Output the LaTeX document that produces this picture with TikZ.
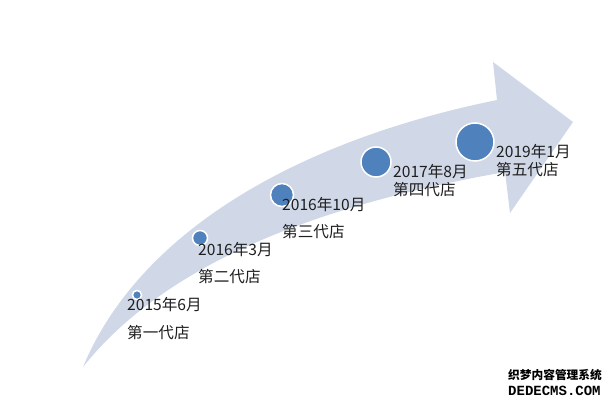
\documentclass[tikz,border=0pt]{standalone}
\usepackage{fontspec}
\usepackage{tikz}
\newfontfamily\cjk{Noto Sans CJK SC}
\newfontfamily\wmmono{Liberation Mono}
\definecolor{arrowfill}{RGB}{208,216,232}
\definecolor{dotblue}{RGB}{79,129,189}
\definecolor{textdark}{RGB}{30,30,30}
\tikzset{
	dot/.style={circle, fill=dotblue, draw=white, line width=1.5pt, inner sep=0pt},
	lbl/.style={anchor=west, inner sep=0pt, text=textdark, font=\cjk\fontsize{15.6}{16}\selectfont}
}

\begin{document}
\begin{tikzpicture}[x=1pt,y=-1pt]
	\useasboundingbox (0,0) rectangle (616,403);
	% curved arrow
	\fill[arrowfill] (83,367) .. controls (140,230) and (300,140) .. (497,100)
		-- (493,62) -- (573,122) -- (510,213) -- (505,172)
		.. controls (330,203) and (170,258) .. (83,367) -- cycle;
	\foreach 
	\i/\x/\y/\r/\lx/\ly/\gap/\date/\name
	in
	{
		1/137/295/4.5/127/305/28/2015年6月/第一代店,
		2/200/238/7.5/198/250/27/2016年3月/第二代店,
		3/282/195/11.5/282/205/27/2016年10月/第三代店,
		4/376/162/15/393/172/18/2017年8月/第四代店,
		5/475/142/19/496/152/18/2019年1月/第五代店
	}
	{
		\node [dot, minimum size=2*\r pt] (c\i) at (\x,\y) {};
		\node [lbl] (d\i) at (\lx,\ly) {\date};
		\node [lbl] (n\i) at ([yshift=-\gap pt]d\i.west) {\name};
	}
	% watermark
	\node [anchor=west, inner sep=0pt, font=\cjk\bfseries\fontsize{11.7}{12}\selectfont] (wm1) at (508,375) {织梦内容管理系统};
	\node [anchor=west, inner sep=0pt, font=\wmmono\bfseries\fontsize{14}{14}\selectfont] (wm2) at (508,391) {DEDECMS.COM};
\end{tikzpicture}
\end{document}
